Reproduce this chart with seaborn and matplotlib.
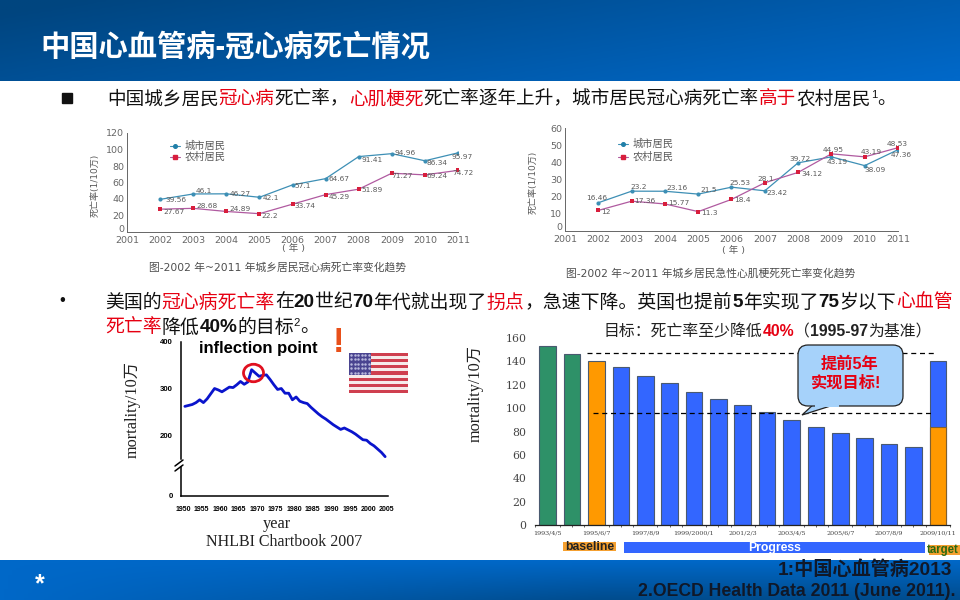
import numpy as np
import pandas as pd
import matplotlib
matplotlib.use("Agg")
import matplotlib.pyplot as plt
from matplotlib.patches import Rectangle, FancyBboxPatch, Polygon, Ellipse
from matplotlib.colors import LinearSegmentedColormap
from matplotlib.transforms import ScaledTranslation
import seaborn as sns

# ---------- data ----------
years_cn = list(range(2002, 2012))
chd_city = [39.56, 46.1, 46.27, 42.1, 57.1, 64.67, 91.41, 94.96, 86.34, 95.97]
chd_rural = [27.67, 28.68, 24.89, 22.2, 33.74, 45.29, 51.89, 71.27, 69.24, 74.72]
ami_city = [16.46, 23.2, 23.16, 21.5, 25.53, 23.42, 39.72, 43.19, 38.09, 47.36]
ami_rural = [12, 17.36, 15.77, 11.3, 18.4, 28.1, 34.12, 44.95, 43.19, 48.53]
series_names = ["城市居民", "农村居民"]
cn_year_ticks = list(range(2001, 2012))

us_years = list(range(1950, 2005))
us_rate = [263, 265, 267, 271, 277, 271, 279, 290, 301, 298, 294, 299, 304, 303, 309, 316, 310, 315,
           341, 334, 327, 329, 330, 320, 309, 299, 301, 291, 291, 277, 283, 274, 271, 269, 261, 254,
           247, 241, 236, 230, 224, 219, 214, 217, 213, 209, 204, 198, 192, 191, 184, 179, 172, 165, 156]
us_year_ticks = list(range(1950, 2010, 5))

uk_periods = ["1993/4/5", "b1", "1995/6/7", "b3", "1997/8/9", "b5", "1999/2000/1", "b7", "2001/2/3", "b9",
              "2003/4/5", "b11", "2005/6/7", "b13", "2007/8/9", "b15", "2009/10/11"]
uk_values = [153.4, 146.3, 140.3, 134.9, 127.7, 121.1, 114, 107.7, 102.3, 96.3, 90, 83.7, 78.6, 74.3, 69.7, 66.6, 140]
uk_groups = ["pre", "pre", "base"] + ["prog"] * 13 + ["prog"]
uk_target_achieved = 84
uk_refs = [147, 95.5]

# ---------- style ----------
LAT_CJK = ["Liberation Sans", "Noto Sans CJK SC"]
SERIF_CJK = ["Liberation Serif", "Noto Sans CJK SC"]
DV_CJK = ["DejaVu Sans", "Noto Sans CJK SC"]
sns.set_theme(style="white")
plt.rcParams["font.family"] = LAT_CJK
plt.rcParams["axes.unicode_minus"] = False

fig = plt.figure(figsize=(9.6, 6), dpi=100, facecolor="white")


def axpx(l, t, r, b, **kw):
    return fig.add_axes([l / 960, 1 - b / 600, (r - l) / 960, (b - t) / 600], **kw)


# pixel canvases
bg = axpx(0, 0, 960, 600, zorder=0)
bg.set_xlim(0, 960); bg.set_ylim(600, 0); bg.axis("off")
ov = axpx(0, 0, 960, 600, zorder=20)
ov.set_xlim(0, 960); ov.set_ylim(600, 0); ov.axis("off"); ov.patch.set_alpha(0)

cm = LinearSegmentedColormap.from_list("band", ["#00457f", "#0068c8"])
xx, yy = np.meshgrid(np.linspace(0, 1, 240), np.linspace(0, 1, 40))
bg.imshow(0.72 * xx + 0.35 * yy - 0.05, extent=(0, 960, 81, 0), cmap=cm, vmin=0, vmax=1, aspect="auto")
bg.imshow(1 - 0.8 * yy * np.clip(1.6 * xx, 0, 1), extent=(0, 960, 600, 560), cmap=cm, vmin=0, vmax=1, aspect="auto")
bg.set_xlim(0, 960); bg.set_ylim(600, 0)

renderer = fig.canvas.get_renderer()


def rich(x, y, segs, size):
    for seg in segs:
        txt, col, w = seg[:3]
        raised = len(seg) > 3
        t = ov.text(x, y - (5 if raised else 0), txt, color=col, fontweight=w,
                    fontsize=size * (0.6 if raised else 1), va="center", ha="left", family=LAT_CJK)
        x += t.get_window_extent(renderer).width


BLACK, RED = "#111111", "#e60012"
ov.text(40, 47, "中国心血管病-冠心病死亡情况", color="white", fontsize=21.1, fontweight="bold", va="center")
ov.add_patch(Rectangle((61.5, 92.5), 10, 10, color="#111111"))
rich(107, 99.5, [("中国城乡居民", BLACK, "normal"), ("冠心病", RED, "normal"), ("死亡率，", BLACK, "normal"),
                 ("心肌梗死", RED, "normal"), ("死亡率逐年上升，城市居民冠心病死亡率", BLACK, "normal"),
                 ("高于", RED, "normal"), ("农村居民", BLACK, "normal"), ("1", BLACK, "normal", True),
                 ("。", BLACK, "normal")], 13.4)
ov.text(62, 301, "•", fontsize=12, color=BLACK, va="center", ha="center")
rich(105, 302.5, [("美国的", BLACK, "normal"), ("冠心病死亡率", RED, "normal"), ("在", BLACK, "normal"),
                  ("20", BLACK, "bold"), ("世纪", BLACK, "normal"), ("70", BLACK, "bold"),
                  ("年代就出现了", BLACK, "normal"), ("拐点", RED, "normal"),
                  ("，急速下降。英国也提前", BLACK, "normal"), ("5", BLACK, "bold"), ("年实现了", BLACK, "normal"),
                  ("75", BLACK, "bold"), ("岁以下", BLACK, "normal"), ("心血管", RED, "normal")], 13.6)
rich(105, 327.5, [("死亡率", RED, "normal"), ("降低", BLACK, "normal"), ("40%", BLACK, "bold"), ("的目标", BLACK, "normal"),
                  ("2", BLACK, "normal", True), ("。", BLACK, "normal")], 13.6)


# ---------- two China line charts ----------
def china_chart(box, city, rural, ymax, ystep, ylabel, ylab_xy, cap, cap_xy, unit_xy, off_c, off_r, legend_xy):
    ax = axpx(*box, zorder=5)
    df = pd.DataFrame({"year": years_cn * 2, "rate": city + rural,
                       "group": [series_names[0]] * 10 + [series_names[1]] * 10})
    sns.lineplot(data=df, x="year", y="rate", hue="group", style="group", markers=["o", "s"], dashes=False,
                 palette=["#3d8fb5", "#b05aa0"], linewidth=0.9, markersize=3, ax=ax, legend=False,
                 markeredgewidth=0)
    ax.lines[1].set_markerfacecolor("#d81e3c")
    ax.set_xlim(2001, 2011); ax.set_ylim(0, ymax)
    ax.set_xticks(cn_year_ticks); ax.set_yticks(np.arange(0, ymax + 1, ystep))
    ax.set_xlabel(""); ax.set_ylabel("")
    ax.patch.set_alpha(0)
    sns.despine(ax=ax)
    for s in ("left", "bottom"):
        ax.spines[s].set_color("#666666"); ax.spines[s].set_linewidth(0.7)
    ax.tick_params(axis="both", labelsize=6.8, labelcolor="#666666", length=1.5, width=0.5, color="#666666", pad=0.5)
    ax.tick_params(axis="x", pad=1.2)
    for lab in ax.get_xticklabels() + ax.get_yticklabels():
        lab.set_family("DejaVu Sans")
    zero = ax.get_yticklabels()[0]
    zero.set_transform(zero.get_transform() + ScaledTranslation(0, 4 / 100, fig.dpi_scale_trans))
    for vals, offs in ((city, off_c), (rural, off_r)):
        for yr, v, (dx, dy) in zip(years_cn, vals, offs):
            ax.annotate(f"{v:g}", (yr, v), xytext=(dx, dy), textcoords="offset pixels", fontsize=5.3,
                        color="#5a5a5a", va="center", ha="left", family="DejaVu Sans", annotation_clip=False)
    lx, ly = legend_xy
    for i, (name, col, mk, mc) in enumerate(zip(series_names, ["#3d8fb5", "#b05aa0"], ["o", "s"], ["#1f7fa8", "#d81e3c"])):
        y = ly[i]
        ov.plot([lx, lx + 10], [y, y], color=col, lw=0.8)
        ov.plot([lx + 5], [y], marker=mk, ms=2.6, color=mc, ls="none")
        ov.text(lx + 15, y, name, fontsize=7.4, color="#5a5a5a", va="center", family="Noto Sans CJK SC")
    ov.text(*ylab_xy, ylabel, rotation=90, fontsize=6.5, color="#5a5a5a", ha="center", va="center", family=DV_CJK)
    ov.text(*cap_xy, cap, fontsize=7.75, color="#4d4d4d", ha="left", va="center", family=DV_CJK)
    ov.text(*unit_xy, "( 年 )", fontsize=6.8, color="#5a5a5a", ha="center", va="center", family=DV_CJK)


china_chart((127, 133, 458, 232), chd_city, chd_rural, 120, 20, "死亡率(1/10万)", (95, 185),
            "图-2002 年~2011 年城乡居民冠心病死亡率变化趋势", (149, 268), (294, 249),
            [(5, -1), (2, 3), (3, 0), (3, -1), (2, -1), (3, 0), (3, -3), (3, 1), (2, -2), (-6, -4)],
            [(3, -3), (3, 2), (3, 2), (2, -2), (2, -2), (3, -2), (3, -1), (0, -3), (2, -1), (-6, -3)],
            (170, (146, 157)))
china_chart((565, 128, 898, 231), ami_city, ami_rural, 60, 10, "死亡率(1/10万)", (533, 182),
            "图-2002 年~2011 年城乡居民急性心肌梗死死亡率变化趋势", (566, 273), (733, 250),
            [(-12, 5), (-1, 4), (2, 3), (2, 4), (-2, 4), (2, -2), (-9, 4), (-5, -5), (0, -4), (-7, -5)],
            [(3, -2), (3, 0), (3, 1), (3, -1), (3, -1), (-7, 4), (3, -2), (-9, 4), (-4, 5), (-11, 4)],
            (618, (144, 157)))

# ---------- US broken-axis line chart ----------
x_left, x_right = 1949.46, 2005.27
us_df = pd.DataFrame({"year": [y + 0.5 for y in us_years], "rate": us_rate})
up = axpx(181, 342, 388, 459, zorder=5)
sns.lineplot(data=us_df, x="year", y="rate", color="#0a14cc", linewidth=2.0, ax=up, legend=False)
up.set_xlim(x_left, x_right); up.set_ylim(151, 400)
up.set_yticks([200, 300, 400]); up.set_xticks([])
up.set_xlabel(""); up.set_ylabel(""); up.patch.set_alpha(0)
sns.despine(ax=up, bottom=True)
up.spines["left"].set_color("black"); up.spines["left"].set_linewidth(1.1)
up.tick_params(axis="y", labelsize=5.6, labelcolor="black", length=3, width=1, color="black", pad=3)
for lab in up.get_yticklabels():
    lab.set_fontweight("bold")

low = axpx(181, 467, 388, 496, zorder=5)
low.set_xlim(x_left, x_right); low.set_ylim(0, 60)
low.set_xticks(us_year_ticks); low.set_yticks([0, 27]); low.set_yticklabels(["0", ""])
sns.despine(ax=low)
low.patch.set_alpha(0)
for s in ("left", "bottom"):
    low.spines[s].set_color("black"); low.spines[s].set_linewidth(1.1)
low.tick_params(axis="both", labelsize=5.0, labelcolor="black", length=3, width=1, color="black", pad=4)
low.tick_params(axis="y", labelsize=5.6, pad=3)
for lab in low.get_xticklabels() + low.get_yticklabels():
    lab.set_fontweight("bold")

ov.plot([175, 183], [466, 460], color="black", lw=1.1)
ov.plot([175, 183], [471, 465], color="black", lw=1.1)
ov.add_patch(Ellipse((253.5, 373), 20, 17.5, fill=False, ec="#e0101f", lw=2))
ov.text(199, 349, "inflection point", fontsize=12, fontweight="bold", color="black", va="center")
ov.text(339, 342, "!", fontsize=25, fontweight="bold", color="#e8501a", va="center", ha="center")
ov.text(133, 410, "mortality/10万", rotation=90, fontsize=11.7, family=SERIF_CJK, color="#222222", ha="center", va="center")
ov.text(277, 523.5, "year", fontsize=11.8, family=SERIF_CJK, color="#222222", ha="center", va="center")
ov.text(284, 542, "NHLBI Chartbook 2007", fontsize=11.5, family=SERIF_CJK, color="#222222", ha="center", va="center")

# flag
fx0, fx1, fy0, fy1 = 349, 408, 353, 393
sh = (fy1 - fy0) / 13
for i in range(13):
    ov.add_patch(Rectangle((fx0, fy0 + i * sh), fx1 - fx0, sh, color="#cf3f4f" if i % 2 == 0 else "#f6eaea", lw=0))
ov.add_patch(Rectangle((fx0, fy0), 22, sh * 7, color="#4a4490", lw=0))
sx, sy = np.meshgrid(np.linspace(fx0 + 2, fx0 + 20, 6), np.linspace(fy0 + 2, fy0 + sh * 7 - 2, 5))
ov.plot(sx.ravel(), sy.ravel(), ls="none", marker="o", ms=0.8, color="#b8b8dc")

# ---------- UK bars ----------
bar = axpx(535, 338, 950, 525, zorder=5)
uk_df = pd.DataFrame({"period": uk_periods, "rate": uk_values, "group": uk_groups})
palette = {"pre": "#2e9168", "base": "#ff9900", "prog": "#3366ff"}
sns.barplot(data=uk_df, x="period", y="rate", hue="group", palette=palette, dodge=False, width=0.68,
            edgecolor="#4a5a70", linewidth=0.8, legend=False, ax=bar, order=uk_periods)
top_df = pd.DataFrame({"period": [uk_periods[-1]], "rate": [uk_target_achieved]})
sns.barplot(data=top_df, x="period", y="rate", color="#ff9900", width=0.68, saturation=1, order=uk_periods,
            edgecolor="#806030", linewidth=0.8, ax=bar)
for p, g in zip(bar.patches, uk_groups):
    p.set_facecolor(palette[g])
bar.set_xlim(-0.52, 16.5); bar.set_ylim(0, 160)
bar.set_xlabel(""); bar.set_ylabel(""); bar.patch.set_alpha(0)
bar.set_yticks(np.arange(0, 161, 20))
bar.set_xticks(range(0, 17, 2))
bar.set_xticklabels(uk_periods[0::2], fontsize=4.6, family="DejaVu Serif", color="#444444")
bar.set_xticks(np.arange(-0.5, 17, 0.5), minor=True)
sns.despine(ax=bar, left=True)
bar.spines["bottom"].set_color("#222222"); bar.spines["bottom"].set_linewidth(0.9)
bar.tick_params(axis="x", which="major", length=0, pad=4)
bar.tick_params(axis="x", which="minor", length=1.5, width=0.5, color="#222222", bottom=True)
bar.tick_params(axis="y", length=0, pad=6, labelsize=7.8, labelcolor="#444444")
for lab in bar.get_yticklabels():
    lab.set_family("DejaVu Serif")
bar.hlines(uk_refs[0], 1.6, 15.85, colors="black", linestyles=(0, (4, 3)), lw=0.9, zorder=8)
bar.hlines(uk_refs[1], 1.85, 15.85, colors="black", linestyles=(0, (4, 3)), lw=0.9, zorder=8)

ov.text(476, 394, "mortality/10万", rotation=90, fontsize=11.7, family=SERIF_CJK, color="#222222", ha="center", va="center")
rich(604, 332, [("目标：死亡率至少降低", "#222222", "normal"), ("40%", RED, "bold"), ("（", "#222222", "normal"),
                ("1995-97", "#222222", "bold"), ("为基准）", "#222222", "normal")], 11.4)

# callout
ov.add_patch(Polygon([[815, 403], [802, 415], [840, 403]], closed=True, fc="#a6d2fa", ec="#222222", lw=0.9, zorder=3))
ov.add_patch(FancyBboxPatch((806, 353), 89, 45, boxstyle="round,pad=8,rounding_size=10", fc="#a6d2fa", ec="#222222", lw=0.9, zorder=3))
ov.add_patch(Rectangle((815, 400), 24, 7, fc="#a6d2fa", ec="none", zorder=4))
ov.text(850, 364, "提前5年", color=RED, fontsize=11.7, fontweight="bold", ha="center", va="center", zorder=5)
ov.text(846, 383, "实现目标!", color=RED, fontsize=11.7, fontweight="bold", ha="center", va="center", zorder=5)

# period strips
ov.add_patch(Rectangle((563, 542), 53, 8.5, fc="#f5a030", lw=0))
ov.text(589.5, 547, "baseline", fontsize=8.8, fontweight="bold", color="#222222", ha="center", va="center")
ov.add_patch(Rectangle((624, 542), 301, 11, fc="#3366ff", lw=0))
ov.text(775, 548.5, "Progress", fontsize=8.8, fontweight="bold", color="white", ha="center", va="center")
ov.add_patch(Rectangle((929, 545), 31, 10, fc="#f5a030", lw=0))
ov.text(927, 550, "target", fontsize=8.3, fontweight="bold", color="#2a6a10", ha="left", va="center")

# footer
ov.text(40, 584, "*", color="white", fontsize=18, fontweight="bold", ha="center", va="center")
ov.text(952, 569.5, "1:中国心血管病2013", color="#101828", fontsize=13.8, fontweight="bold", ha="right", va="center")
ov.text(955, 592, "2.OECD Health Data 2011 (June 2011).", color="#101828", fontsize=12.7, fontweight="bold", ha="right", va="center")

fig.savefig("out.png", dpi=100)
